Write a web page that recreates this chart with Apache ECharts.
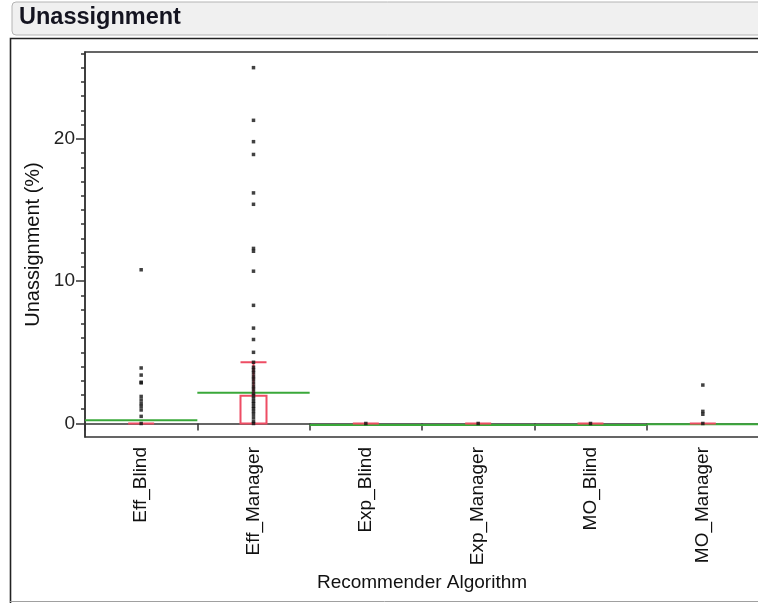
<!DOCTYPE html>
<html>
<head>
<meta charset="utf-8">
<script src="https://cdn.jsdelivr.net/npm/echarts@6/dist/echarts.min.js"></script>
<style>
  html, body { margin: 0; padding: 0; background: #ffffff; }
  #chart { width: 758px; height: 603px; }
</style>
</head>
<body>
<div id="chart"></div>
<script>
// Recommender algorithms on the x axis
const categories = ['Eff_Blind', 'Eff_Manager', 'Exp_Blind', 'Exp_Manager', 'MO_Blind', 'MO_Manager'];

// Individual unassignment observations (%) per algorithm
const effBlindValues = [10.8, 3.9, 3.4, 2.9, 2.85, 1.9, 1.65, 1.4, 1.2, 0.95, 0.5, 0];
const effManagerValues = [25.0, 21.3, 19.8, 18.9, 16.2, 15.4, 12.3, 12.1, 10.7, 8.3, 6.7, 5.9, 5.0,
  4.3, 3.95, 3.75, 3.55, 3.3, 3.1, 2.85, 2.6, 2.4, 2.15, 1.95, 1.75, 1.55, 1.4, 1.2, 1.05,
  0.85, 0.65, 0.4, 0.15, 0];
const expBlindValues = [0];
const expManagerValues = [0];
const moBlindValues = [0];
const moManagerValues = [2.7, 0.85, 0.65, 0];

// Box summaries: [lower whisker, Q1, median, Q3, upper whisker]
const boxStats = [
  [0, 0, 0, 0, 0],
  [0, 0, 0, 1.95, 4.3],
  [0, 0, 0, 0, 0],
  [0, 0, 0, 0, 0],
  [0, 0, 0, 0, 0],
  [0, 0, 0, 0, 0]
];

// Group means (green lines)
const groupMeans = [0.34, 2.27, 0, 0, 0, 0.05];

// Y axis tick labels and minor ticks
const yLabelTicks = [0, 10, 20];
const yMinorTicks = Array.from({ length: 27 }, (_, i) => i);

const pointGroups = [effBlindValues, effManagerValues, expBlindValues, expManagerValues, moBlindValues, moManagerValues];
const points = [];
pointGroups.forEach((vals, i) => vals.forEach(v => points.push([i, v])));

const FONT = '"Liberation Sans", Arial, sans-serif';
const AXIS_COLOR = '#333333';
const RED = '#ee4d64';
const GREEN = '#3aa83a';

const chart = echarts.init(document.getElementById('chart'), null, { renderer: 'canvas' });

const option = {
  animation: false,
  backgroundColor: '#ffffff',
  textStyle: { fontFamily: FONT },
  graphic: [
    {
      type: 'rect', z: 0,
      shape: { x: 12, y: 2, width: 770, height: 33, r: 4 },
      style: { fill: '#f0f0f0', stroke: '#b4b4b4', lineWidth: 1 }
    },
    {
      type: 'text', z: 1,
      x: 19, y: 18,
      style: {
        text: 'Unassignment', fill: '#141420',
        font: 'bold 23.5px ' + FONT,
        verticalAlign: 'middle', align: 'left'
      }
    },
    {
      type: 'polyline', z: 1,
      shape: { points: [[10.5, 603], [10.5, 38.5], [760, 38.5]] },
      style: { stroke: '#222222', lineWidth: 1.6, fill: null }
    },
    {
      type: 'line', z: 1,
      shape: { x1: 10, y1: 601.5, x2: 760, y2: 601.5 },
      style: { stroke: '#a0a0a0', lineWidth: 1 }
    }
  ],
  grid: {
    left: 85, top: 52, width: 674, height: 385,
    containLabel: false,
    outerBoundsMode: 'none',
    show: true, borderColor: AXIS_COLOR, borderWidth: 1.5, backgroundColor: 'transparent'
  },
  xAxis: {
    type: 'category',
    data: categories,
    boundaryGap: true,
    name: 'Recommender Algorithm',
    nameLocation: 'middle',
    nameGap: 136,
    nameMoveOverlap: false,
    nameTextStyle: { fontSize: 19, color: '#111', fontFamily: FONT },
    axisLine: { lineStyle: { color: AXIS_COLOR, width: 1.5 } },
    axisTick: { show: true, length: 7, alignWithLabel: false, lineStyle: { color: AXIS_COLOR, width: 1.5 } },
    axisLabel: { rotate: 90, margin: 10, fontSize: 19, color: '#111', fontFamily: FONT },
    splitLine: { show: false }
  },
  yAxis: [
    {
      type: 'value',
      min: -0.95, max: 26.1,
      name: 'Unassignment (%)',
      nameLocation: 'middle',
      nameGap: 42,
      nameMoveOverlap: false,
      nameTextStyle: { fontSize: 20, color: '#111', fontFamily: FONT },
      axisLine: { show: true, lineStyle: { color: AXIS_COLOR, width: 1.5 } },
      axisTick: { show: true, length: 9, customValues: yLabelTicks, lineStyle: { color: AXIS_COLOR, width: 1.5 } },
      axisLabel: { margin: 10, fontSize: 19, color: '#222', fontFamily: FONT, customValues: yLabelTicks },
      splitLine: { show: false }
    },
    {
      type: 'value',
      min: -0.95, max: 26.1,
      position: 'left',
      offset: 0,
      axisLine: { show: false },
      axisTick: { show: true, length: 4, customValues: yMinorTicks, lineStyle: { color: AXIS_COLOR, width: 1.5 } },
      axisLabel: { show: false },
      splitLine: { show: false }
    }
  ],
  series: [
    {
      type: 'custom',
      z: 2,
      silent: true,
      data: groupMeans.map((m, i) => [i, m]),
      renderItem: function (params, api) {
        const c = api.coord([api.value(0), api.value(1)]);
        const bw = api.size([1, 0])[0];
        return {
          type: 'line',
          shape: { x1: c[0] - bw / 2, y1: c[1] + 1.5, x2: c[0] + bw / 2, y2: c[1] + 1.5 },
          style: { stroke: GREEN, lineWidth: 2 }
        };
      }
    },
    {
      type: 'boxplot',
      z: 3,
      silent: true,
      boxWidth: [26, 26],
      data: boxStats,
      itemStyle: { color: 'transparent', borderColor: RED, borderWidth: 2 }
    },
    {
      type: 'scatter',
      z: 4,
      silent: true,
      symbol: 'rect',
      symbolSize: 3.5,
      itemStyle: { color: '#111111' },
      data: points
    }
  ]
};

chart.setOption(option);
</script>
</body>
</html>
